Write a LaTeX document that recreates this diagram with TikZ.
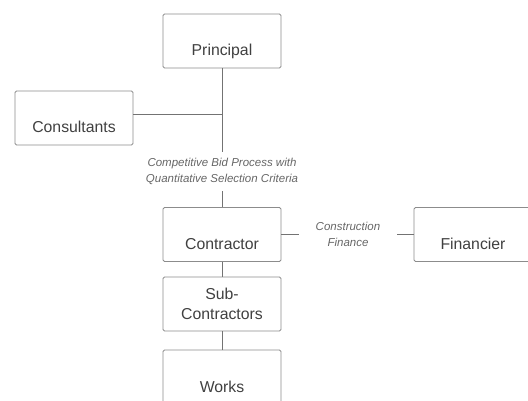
\documentclass[tikz,border=0pt]{standalone}
\usepackage{fontspec}
\setmainfont{Liberation Sans}
\definecolor{boxgray}{gray}{0.55}
\definecolor{linegray}{gray}{0.45}
\definecolor{textgray}{gray}{0.25}
\definecolor{notegray}{gray}{0.4}
\begin{document}
\begin{tikzpicture}[x=1pt,y=-1pt,
    unit/.style={draw=boxgray,line width=0.8pt,inner sep=0pt,
      rounded corners=1.5pt,
      minimum width=118pt,text width=118pt,align=center,
      text height=42pt,text depth=12pt,text=textgray,
      font=\fontsize{15.8}{20}\selectfont},
    note/.style={inner sep=0pt,align=center,text=notegray,
      font=\itshape\fontsize{11.5}{16}\selectfont},
    link/.style={draw=linegray,line width=0.8pt}]
  \useasboundingbox (0,0) rectangle (528,401);

  % Coordinates
  \coordinate (junc) at (222,114);

  % units
  \node[unit] (principal) at (222,41) {Principal};
  \node[unit] (consultants) at (74,118) {Consultants};
  \node[unit] (contractor) at (222,234.5) {Contractor};
  \node[unit,text height=22pt,text depth=32pt] (sub) at (222,304)
    {Sub-\\Contractors};
  \node[unit] (works) at (222,377) {Works};
  \node[unit] (financier) at (473,234.5) {Financier};

  % label links
  \node[note,minimum height=39pt] (bid) at (222,171.5)
    {Competitive Bid Process with\\Quantitative Selection Criteria};
  \node[note,minimum width=98pt] (finance) at (348,234.5)
    {Construction\\Finance};

  % connecting the units
  \draw[link] (principal.south) -- (bid.north);
  \draw[link] (bid.south) -- (contractor.north);
  \draw[link] (junc) -- (junc -| consultants.east);
  \draw[link] (contractor.south) -- (sub.north);
  \draw[link] (sub.south) -- (works.north);
  \draw[link] (contractor.east) -- (finance.west);
  \draw[link] (finance.east) -- (financier.west);

\end{tikzpicture}
\end{document}
